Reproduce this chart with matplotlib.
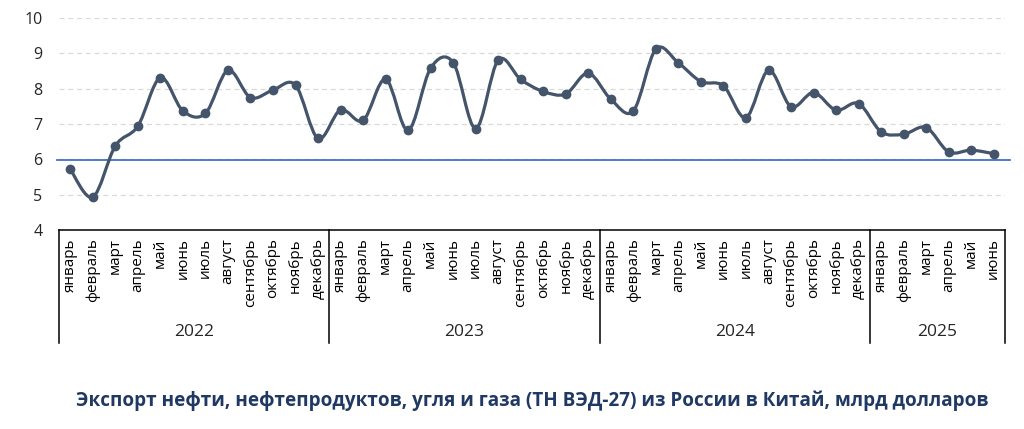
import matplotlib.pyplot as plt
from matplotlib.path import Path
from matplotlib.patches import PathPatch
import matplotlib.transforms as mtransforms

# Data
years = ['2022', '2023', '2024', '2025']
months_per_year = [12, 12, 12, 6]
month_names = ['январь', 'февраль', 'март', 'апрель', 'май', 'июнь', 'июль',
               'август', 'сентябрь', 'октябрь', 'ноябрь', 'декабрь']
values_2022 = [5.72, 4.93, 6.38, 6.94, 8.31, 7.37, 7.30, 8.52, 7.75, 7.96, 8.10, 6.59]
values_2023 = [7.40, 7.10, 8.27, 6.82, 8.58, 8.74, 6.87, 8.81, 8.26, 7.92, 7.85, 8.44]
values_2024 = [7.70, 7.37, 9.12, 8.73, 8.20, 8.08, 7.18, 8.52, 7.49, 7.89, 7.39, 7.58]
values_2025 = [6.78, 6.71, 6.90, 6.21, 6.26, 6.16]
threshold = 5.97

values = values_2022 + values_2023 + values_2024 + values_2025
labels = []
for n in months_per_year:
    labels += month_names[:n]
x = list(range(len(values)))

plt.rcParams['font.family'] = ['Open Sans', 'DejaVu Sans']

fig = plt.figure(figsize=(10.24, 4.29), dpi=100)
ax = fig.add_axes([59 / 1024, 1 - 230 / 429, (1005 - 59) / 1024, (230 - 18) / 429])

line_color = '#44546A'

# smoothed line (Excel-like bezier through the points)
verts = [(x[0], values[0])]
codes = [Path.MOVETO]
n = len(values)
for i in range(n - 1):
    p0 = (x[max(i - 1, 0)], values[max(i - 1, 0)])
    p1 = (x[i], values[i])
    p2 = (x[i + 1], values[i + 1])
    p3 = (x[min(i + 2, n - 1)], values[min(i + 2, n - 1)])
    c1 = (p1[0] + (p2[0] - p0[0]) / 6, p1[1] + (p2[1] - p0[1]) / 6)
    c2 = (p2[0] - (p3[0] - p1[0]) / 6, p2[1] - (p3[1] - p1[1]) / 6)
    verts += [c1, c2, p2]
    codes += [Path.CURVE4] * 3
ax.add_patch(PathPatch(Path(verts, codes), facecolor='none', edgecolor=line_color,
                       lw=2.3, zorder=4, capstyle='round'))
ax.plot(x, values, 'o', color=line_color, markersize=6, zorder=5)

# threshold line
ax.plot([-0.6, len(values) - 0.3], [threshold, threshold], color='#4472C4',
        lw=1.3, zorder=3, clip_on=False)

ax.set_xlim(-0.5, len(values) - 0.5)
ax.set_ylim(4, 10)
ax.set_yticks(range(4, 11))
ax.yaxis.grid(True, color='#D9D9D9', linestyle=(0, (4, 3)), lw=0.9)
ax.set_axisbelow(True)
for s in ['left', 'right', 'top']:
    ax.spines[s].set_visible(False)
ax.spines['bottom'].set_color('black')
ax.spines['bottom'].set_linewidth(1.1)
ax.tick_params(axis='y', length=0, labelsize=11.5, labelcolor='#262626', pad=12)
ax.set_xticks(x)
ax.set_xticklabels(labels, rotation=90, fontsize=11, color='black')
ax.tick_params(axis='x', length=0, pad=6)

# year groups
trans = mtransforms.blended_transform_factory(ax.transData, ax.transAxes)
box_bottom = -(343 - 230) / 212
start = 0
bounds = [0]
for yr, cnt in zip(years, months_per_year):
    ax.text(start + (cnt - 1) / 2, -(332 - 230) / 212, yr, transform=trans,
            ha='center', va='center', fontsize=12.5, color='#262626')
    start += cnt
    bounds.append(start)
for b in bounds:
    ax.plot([b - 0.5, b - 0.5], [0, box_bottom], color='black', lw=1.1,
            transform=trans, clip_on=False)

fig.text(532 / 1024, 1 - 401 / 429,
         'Экспорт нефти, нефтепродуктов, угля и газа (ТН ВЭД-27) из России в Китай, млрд долларов',
         ha='center', va='center', fontsize=13.6, fontweight='bold', color='#203864')

fig.savefig('out.png', dpi=100)
